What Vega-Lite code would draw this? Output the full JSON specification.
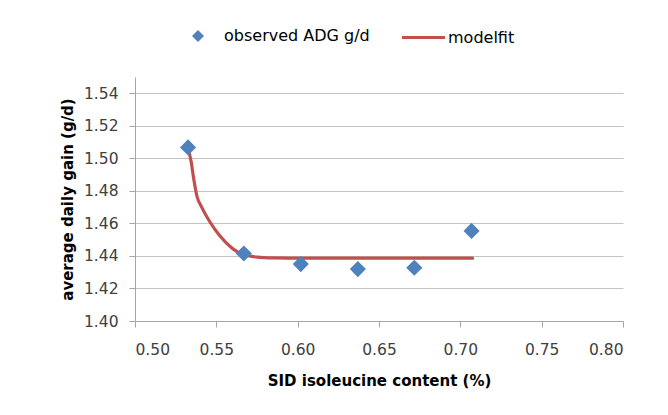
{
  "$schema": "https://vega.github.io/schema/vega-lite/v6.json",
  "width": 488,
  "height": 244,
  "autosize": {"type": "none"},
  "padding": {"left": 135, "top": 77, "right": 45, "bottom": 94},
  "background": "white",
  "config": {
    "font": "DejaVu Sans",
    "view": {"stroke": null},
    "axis": {
      "labelFont": "DejaVu Sans",
      "labelFontSize": 15.5,
      "labelColor": "#404040",
      "titleFont": "DejaVu Sans",
      "titleFontSize": 15,
      "titleFontWeight": "bold",
      "titleColor": "#000000",
      "domainColor": "#A6A6A6",
      "tickColor": "#A6A6A6",
      "gridColor": "#C4C4C4",
      "tickSize": 6
    },
    "legend": {
      "labelFont": "DejaVu Sans",
      "labelFontSize": 16,
      "labelColor": "#000000",
      "padding": 0,
      "title": null
    }
  },
  "datasets": {
    "points": [
      {"sid": 0.5326, "adg": 1.5067, "series": "observed ADG g/d"},
      {"sid": 0.5669, "adg": 1.4415, "series": "observed ADG g/d"},
      {"sid": 0.6019, "adg": 1.4350, "series": "observed ADG g/d"},
      {"sid": 0.6370, "adg": 1.4319, "series": "observed ADG g/d"},
      {"sid": 0.6717, "adg": 1.4327, "series": "observed ADG g/d"},
      {"sid": 0.7069, "adg": 1.4554, "series": "observed ADG g/d"}
    ],
    "fit": [
      {"sid": 0.5326, "adg": 1.5060, "series": "modelfit"},
      {"sid": 0.5345, "adg": 1.4980, "series": "modelfit"},
      {"sid": 0.5360, "adg": 1.4880, "series": "modelfit"},
      {"sid": 0.5380, "adg": 1.4770, "series": "modelfit"},
      {"sid": 0.5410, "adg": 1.4700, "series": "modelfit"},
      {"sid": 0.5460, "adg": 1.4610, "series": "modelfit"},
      {"sid": 0.5520, "adg": 1.4525, "series": "modelfit"},
      {"sid": 0.5600, "adg": 1.4445, "series": "modelfit"},
      {"sid": 0.5660, "adg": 1.4410, "series": "modelfit"},
      {"sid": 0.5750, "adg": 1.4393, "series": "modelfit"},
      {"sid": 0.5850, "adg": 1.4388, "series": "modelfit"},
      {"sid": 0.6050, "adg": 1.4386, "series": "modelfit"},
      {"sid": 0.7075, "adg": 1.4386, "series": "modelfit"}
    ]
  },
  "encoding": {
    "x": {
      "field": "sid",
      "type": "quantitative",
      "title": "SID isoleucine content (%)",
      "scale": {"domain": [0.5, 0.8], "nice": false, "zero": false},
      "axis": {
        "values": [0.5, 0.55, 0.6, 0.65, 0.7, 0.75, 0.8],
        "format": ".2f",
        "grid": false,
        "labelPadding": 15,
        "titlePadding": 16
      }
    },
    "y": {
      "field": "adg",
      "type": "quantitative",
      "title": "average daily gain (g/d)",
      "scale": {"domain": [1.4, 1.55], "nice": false, "zero": false},
      "axis": {
        "values": [1.4, 1.42, 1.44, 1.46, 1.48, 1.5, 1.52, 1.54],
        "format": ".2f",
        "grid": true,
        "labelPadding": 11,
        "titlePadding": 8
      }
    }
  },
  "layer": [
    {
      "data": {"name": "fit"},
      "mark": {"type": "line", "interpolate": "monotone", "strokeWidth": 3.2, "strokeCap": "round"},
      "encoding": {
        "stroke": {
          "field": "series",
          "type": "nominal",
          "scale": {"domain": ["modelfit"], "range": ["#C0504D"]},
          "legend": {
            "orient": "none",
            "legendX": 265,
            "legendY": -63,
            "symbolType": "stroke",
            "symbolSize": 1849,
            "symbolStrokeWidth": 3.2,
            "labelOffset": 1
          }
        }
      }
    },
    {
      "data": {"name": "points"},
      "mark": {"type": "point", "shape": "diamond", "filled": true, "size": 260, "color": "#4F81BD", "opacity": 1},
      "encoding": {
        "shape": {
          "field": "series",
          "type": "nominal",
          "scale": {"domain": ["observed ADG g/d"], "range": ["diamond"]},
          "legend": {
            "orient": "none",
            "legendX": 55,
            "legendY": -49,
            "symbolSize": 144,
            "symbolFillColor": "#4F81BD",
            "symbolStrokeWidth": 0,
            "symbolOpacity": 1,
            "labelOffset": 18
          }
        }
      }
    }
  ]
}
